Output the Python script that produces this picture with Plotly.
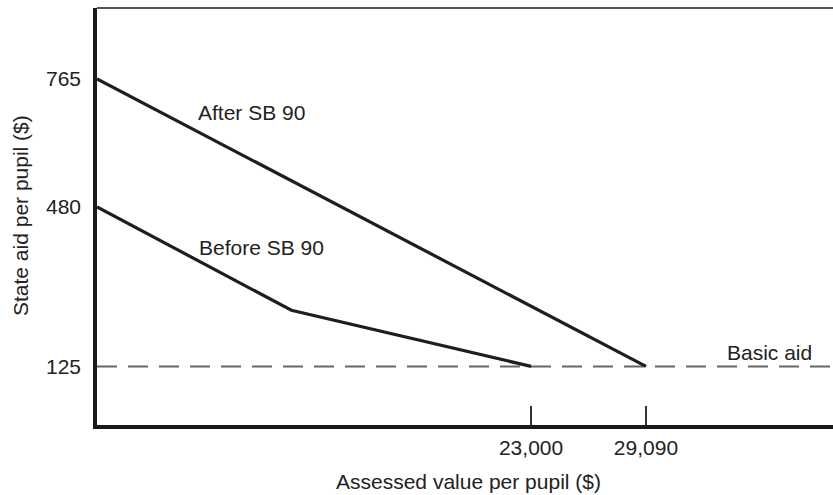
import plotly.graph_objects as go

# Data
before_x = [0, 10300, 23000]
before_y = [480, 250, 125]
after_x = [0, 29090]
after_y = [765, 125]
basic_aid = 125
x_tickvals = [23000, 29090]
x_ticktext = ["23,000", "29,090"]
y_tickvals = [125, 480, 765]
y_ticktext = ["125", "480", "765"]

FONT = "Liberation Sans, Arial, Helvetica, sans-serif"
TXT = "#222222"
FS = 21
X_MAX = 39000
Y_MIN, Y_MAX = -5.5, 923

fig = go.Figure()

fig.add_trace(go.Scatter(x=[0, X_MAX], y=[basic_aid, basic_aid], mode="lines",
                         line=dict(color="#666666", width=2, dash="20px,11px"),
                         hoverinfo="skip", showlegend=False))
fig.add_trace(go.Scatter(x=before_x, y=before_y, mode="lines", name="Before SB 90",
                         line=dict(color="#1e1e1e", width=3.2), showlegend=False))
fig.add_trace(go.Scatter(x=after_x, y=after_y, mode="lines", name="After SB 90",
                         line=dict(color="#1e1e1e", width=3.2), showlegend=False))

fig.update_layout(
    width=833, height=495,
    margin=dict(l=97, r=0, t=8, b=70),
    paper_bgcolor="white", plot_bgcolor="white",
    font=dict(family=FONT, size=FS, color=TXT),
    xaxis=dict(range=[0, X_MAX], showgrid=False, zeroline=False,
               showline=True, linecolor="#1a1a1a", linewidth=3.5,
               tickmode="array", tickvals=x_tickvals, ticktext=x_ticktext,
               ticks="inside", ticklen=19, tickwidth=1.5, tickcolor="#333333",
               ticklabelstandoff=1,
               tickfont=dict(size=FS, color=TXT, family=FONT)),
    yaxis=dict(range=[Y_MIN, Y_MAX], showgrid=False, zeroline=False,
               showline=True, linecolor="#1a1a1a", linewidth=3.5,
               tickmode="array", tickvals=y_tickvals, ticktext=y_ticktext,
               ticks="", ticklabelstandoff=8,
               tickfont=dict(size=FS, color=TXT, family=FONT)),
    shapes=[dict(type="line", xref="paper", yref="paper", x0=0, x1=1, y0=1, y1=1,
                 line=dict(color="#555555", width=2))],
    annotations=[
        dict(text="After SB 90", x=196, xref="paper", y=112, yref="paper", showarrow=False),
        dict(text="Before SB 90", x=197, xref="paper", y=247, yref="paper", showarrow=False),
        dict(text="Basic aid", x=725, xref="paper", y=352, yref="paper", showarrow=False),
        dict(text="Assessed value per pupil ($)", x=468, xref="paper", y=481, yref="paper", showarrow=False),
        dict(text="State aid per pupil ($)", x=20, xref="paper", y=216, yref="paper",
             showarrow=False, textangle=-90),
    ],
)

# convert pixel positions in annotations to paper coordinates
L, T, W, H = 97, 8, 833 - 97, 495 - 8 - 70
new_ann = []
for a in fig.layout.annotations:
    px, py = a.x, a.y
    a.x = (px - L) / W
    a.y = (T + H - py) / H
    a.yanchor = "middle"
    if a.text in ("Assessed value per pupil ($)", "State aid per pupil ($)"):
        a.xanchor = "center"
    else:
        a.xanchor = "left"
    a.font = dict(size=FS, color=TXT, family=FONT)
    new_ann.append(a)
fig.layout.annotations = new_ann

fig.write_html("out.html", config={"displayModeBar": False},
               post_script="document.body.style.margin='0px';")
